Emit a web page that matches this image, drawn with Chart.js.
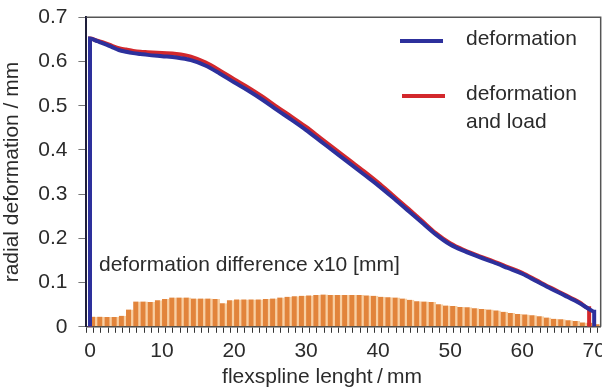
<!DOCTYPE html>
<html>
<head>
<meta charset="utf-8">
<script src="https://cdn.jsdelivr.net/npm/chart.js@4.4.0/dist/chart.umd.min.js"></script>
<style>
  html, body { margin: 0; padding: 0; background: #fff; overflow: hidden; }
  #wrap { width: 612px; height: 391px; position: relative; }
</style>
</head>
<body>
<div id="wrap"><canvas id="chart"></canvas></div>
<script>
// flexspline length positions (mm) of the two measured curves
const blueLength = [0, 0, 1, 2, 3, 4, 5, 6, 7, 8, 10, 12, 14, 16, 18, 20, 22, 24, 26, 28, 30,
  32, 34, 36, 38, 40, 42, 44, 46, 48, 50, 52, 54, 56, 58, 60, 62, 64, 66, 68, 69.5, 70, 70];
const blueDeformation = [0, 0.652, 0.646, 0.640, 0.633, 0.626, 0.622, 0.619, 0.617, 0.615, 0.612,
  0.609, 0.603, 0.591, 0.573, 0.553, 0.534, 0.513, 0.490, 0.468, 0.445, 0.420, 0.395, 0.370,
  0.345, 0.320, 0.293, 0.265, 0.237, 0.209, 0.186, 0.171, 0.158, 0.146, 0.133, 0.120, 0.103,
  0.086, 0.070, 0.053, 0.038, 0.034, 0];

const redLength = [0, 0, 1, 2, 3, 4, 5, 6, 7, 8, 10, 12, 14, 16, 18, 20, 22, 24, 26, 28, 30,
  32, 34, 36, 38, 40, 42, 44, 46, 48, 50, 52, 54, 56, 58, 60, 62, 64, 66, 68, 69.3, 69.3];
const redDeformation = [0, 0.652, 0.647, 0.642, 0.636, 0.630, 0.627, 0.624, 0.622, 0.621, 0.619,
  0.617, 0.611, 0.598, 0.580, 0.560, 0.541, 0.520, 0.497, 0.475, 0.452, 0.427, 0.402, 0.377,
  0.352, 0.326, 0.298, 0.270, 0.241, 0.212, 0.189, 0.173, 0.160, 0.148, 0.135, 0.122, 0.105,
  0.088, 0.072, 0.055, 0.042, 0];

// deformation difference x10, one bar per mm (bar centres at 0.5, 1.5, ...)
const barCentres = [];
for (let i = 0; i <= 70; i++) barCentres.push(i + 0.5);
const diffX10 = [
  0.023, 0.023, 0.022, 0.022, 0.025, 0.039, 0.057, 0.057, 0.056, 0.060,
  0.063, 0.066, 0.066, 0.066, 0.064, 0.064, 0.064, 0.063, 0.053, 0.060,
  0.062, 0.062, 0.062, 0.062, 0.063, 0.064, 0.066, 0.068, 0.069, 0.070,
  0.071, 0.072, 0.073, 0.072, 0.072, 0.072, 0.072, 0.072, 0.071, 0.070,
  0.068, 0.067, 0.066, 0.064, 0.061, 0.058, 0.057, 0.056, 0.051, 0.048,
  0.047, 0.045, 0.044, 0.042, 0.040, 0.039, 0.037, 0.034, 0.031, 0.029,
  0.028, 0.026, 0.024, 0.021, 0.018, 0.017, 0.015, 0.013, 0.010, 0.009, 0.006
];

const xMajorTicks = [0, 10, 20, 30, 40, 50, 60, 70];
const yTicks = [0, 0.1, 0.2, 0.3, 0.4, 0.5, 0.6, 0.7];

const colors = {
  blue: '#2d309c',
  red: '#d3282c',
  bar: '#e2843b',
  barLight: '#f8cfa2',
  text: '#2b2b2b',
  frame: '#555'
};
const FONT = '"Liberation Sans", Arial, sans-serif';

function toPoints(xs, ys) {
  return xs.map((x, i) => ({ x: x, y: ys[i] }));
}

// frame, legend, x title and note text
const notesPlugin = {
  id: 'notes',
  afterDraw(chart) {
    const ctx = chart.ctx;
    const a = chart.chartArea;
    ctx.save();
    ctx.strokeStyle = colors.frame;
    ctx.lineWidth = 1.5;
    ctx.beginPath();
    ctx.moveTo(a.left, a.top);
    ctx.lineTo(a.right, a.top);
    ctx.lineTo(a.right, a.bottom);
    ctx.stroke();

    ctx.lineWidth = 4;
    ctx.strokeStyle = colors.blue;
    ctx.beginPath();
    ctx.moveTo(400, 41);
    ctx.lineTo(443, 41);
    ctx.stroke();
    ctx.strokeStyle = colors.red;
    ctx.beginPath();
    ctx.moveTo(402, 96);
    ctx.lineTo(445, 96);
    ctx.stroke();

    ctx.fillStyle = colors.text;
    ctx.font = '21px ' + FONT;
    ctx.textBaseline = 'middle';
    ctx.textAlign = 'left';
    ctx.fillText('deformation', 466, 39);
    ctx.fillText('deformation', 466, 94);
    ctx.fillText('and load', 466, 122);
    ctx.fillText('deformation difference x10 [mm]', 99, 265);

    ctx.textAlign = 'center';
    ctx.fillText('flexspline lenght\u2009/\u2009mm', 322, 377);
    ctx.restore();
  }
};

const chart = new Chart(document.getElementById('chart'), {
  type: 'bar',
  data: {
    datasets: [
      {
        type: 'line',
        label: 'deformation',
        data: toPoints(blueLength, blueDeformation),
        borderColor: colors.blue,
        borderWidth: 4,
        pointRadius: 0,
        cubicInterpolationMode: 'monotone',
        order: 1
      },
      {
        type: 'line',
        label: 'deformation and load',
        data: toPoints(redLength, redDeformation),
        borderColor: colors.red,
        borderWidth: 4,
        pointRadius: 0,
        cubicInterpolationMode: 'monotone',
        order: 2
      },
      {
        type: 'bar',
        label: 'deformation difference x10',
        data: toPoints(barCentres, diffX10),
        backgroundColor: colors.bar,
        borderColor: colors.barLight,
        borderWidth: { right: 2.5, left: 0, top: 0, bottom: 0 },
        borderSkipped: false,
        categoryPercentage: 1,
        barPercentage: 1,
        order: 3
      }
    ]
  },
  options: {
    responsive: true,
    maintainAspectRatio: false,
    animation: false,
    layout: { padding: { left: 0, right: 11, top: 16, bottom: 21 } },
    plugins: {
      legend: { display: false },
      tooltip: { enabled: false }
    },
    scales: {
      x: {
        type: 'linear',
        min: 0,
        max: 70.4,
        afterBuildTicks(axis) {
          const t = [];
          for (let i = 0; i <= 70; i++) t.push({ value: i });
          axis.ticks = t;
        },
        ticks: {
          autoSkip: false,
          maxRotation: 0,
          padding: 6,
          color: colors.text,
          font: { size: 21, family: FONT },
          callback: v => xMajorTicks.includes(v) ? String(v) : ''
        },
        grid: { drawOnChartArea: false, tickLength: 6, tickColor: '#333', tickWidth: 1 },
        border: { color: '#444', width: 1.5 }
      },
      y: {
        min: 0,
        max: 0.7,
        afterBuildTicks(axis) {
          axis.ticks = yTicks.map(v => ({ value: v }));
        },
        ticks: {
          padding: 11,
          color: colors.text,
          font: { size: 21, family: FONT, lineHeight: 0.6 },
          callback: v => v === 0 ? '0' : v.toFixed(1)
        },
        grid: { drawOnChartArea: false, tickLength: 8, tickColor: '#777' },
        border: { color: '#1e1e3a', width: 2 },
        title: {
          display: true,
          text: 'radial deformation / mm',
          color: colors.text,
          font: { size: 21, family: FONT },
          padding: { top: 0, bottom: 2 }
        }
      }
    }
  },
  plugins: [notesPlugin]
});
</script>
</body>
</html>
